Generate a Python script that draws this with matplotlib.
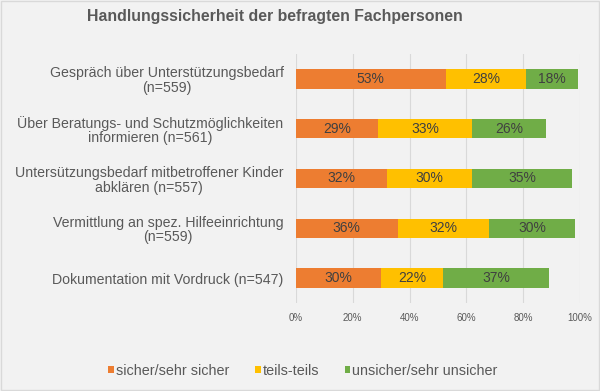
import matplotlib
matplotlib.use("Agg")
import matplotlib.pyplot as plt
from matplotlib.patches import Rectangle

plt.rcParams['font.family'] = ['Liberation Sans', 'DejaVu Sans']

categories = [
    "Gespräch über Unterstützungsbedarf\n(n=559)",
    "Über Beratungs- und Schutzmöglichkeiten\ninformieren (n=561)",
    "Untersützungsbedarf mitbetroffener Kinder\nabklären (n=557)",
    "Vermittlung an spez. Hilfeeinrichtung\n(n=559)",
    "Dokumentation mit Vordruck (n=547)",
]
sicher = [52.7, 28.8, 31.9, 35.8, 29.8]
teils = [28.3, 33.2, 30.1, 32.3, 22.1]
unsicher = [18.2, 26.0, 35.2, 30.1, 37.1]
labels_sicher = ["53%", "29%", "32%", "36%", "30%"]
labels_teils = ["28%", "33%", "30%", "32%", "22%"]
labels_unsicher = ["18%", "26%", "35%", "30%", "37%"]
series_names = ["sicher/sehr sicher", "teils-teils", "unsicher/sehr unsicher"]
xticks = [0, 20, 40, 60, 80, 100]
xticklabels = ["0%", "20%", "40%", "60%", "80%", "100%"]
title = "Handlungssicherheit der befragten Fachpersonen"

colors = ["#ED7D31", "#FFC000", "#70AD47"]
bg = "#F2F2F2"

fig = plt.figure(figsize=(6, 3.91), dpi=100, facecolor=bg)
ax = fig.add_axes([296/600, 1-303/391, 284/600, 249/391])
ax.set_facecolor(bg)

y = list(range(len(categories)))
h = 0.39
left = [0]*len(y)
for vals, labs, col, name in zip([sicher, teils, unsicher],
                                  [labels_sicher, labels_teils, labels_unsicher],
                                  colors, series_names):
    bars = ax.barh(y, vals, left=left, height=h, color=col, label=name, zorder=3)
    for b, lab in zip(bars, labs):
        ax.text(b.get_x() + b.get_width()/2, b.get_y() + b.get_height()/2, lab,
                ha='center', va='center', fontsize=10, color='#404040', zorder=4)
    left = [l + v for l, v in zip(left, vals)]

ax.set_ylim(len(y) - 0.5, -0.5)
ax.set_xlim(0, 100)
ax.set_xticks(xticks)
ax.set_xticklabels(xticklabels, fontsize=7, color='#595959')
ax.set_yticks(y)
ax.set_yticklabels(categories, fontsize=10.2, color='#595959', multialignment='center',
                   linespacing=1.05)
ax.tick_params(axis='both', length=0)
ax.tick_params(axis='x', pad=7)
ax.tick_params(axis='y', pad=9)
ax.grid(axis='x', color='#D9D9D9', linewidth=0.8, zorder=0)
for s in ax.spines.values():
    s.set_visible(False)

fig.text(275/600, 1-17/391, title, ha='center', va='center', fontsize=11.4,
         fontweight='bold', color='#595959')

leg = fig.legend(loc='center', bbox_to_anchor=(303/600, 1-371/391), ncol=3,
                 frameon=False, fontsize=10.4, handlelength=0.4, handleheight=0.4,
                 handletextpad=0.15, columnspacing=1.75, labelcolor='#595959')

fig.patches.append(Rectangle((0.002, 0.002), 0.996, 0.996, transform=fig.transFigure,
                             fill=False, edgecolor='#D9D9D9', linewidth=1))

fig.savefig("out.png", dpi=100, facecolor=bg)
